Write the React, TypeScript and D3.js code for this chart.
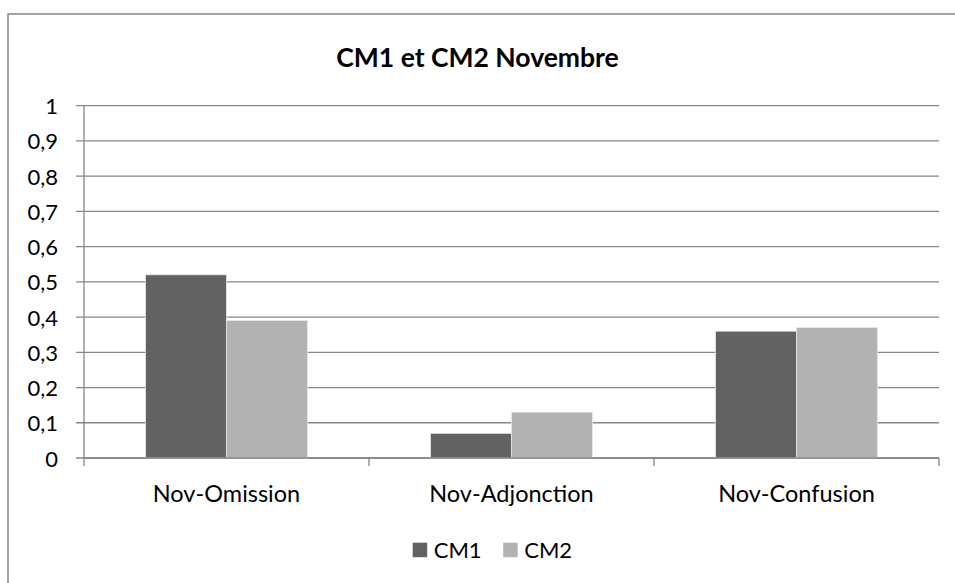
import React from "react";
import * as d3 from "d3";

const categories = ["Nov-Omission", "Nov-Adjonction", "Nov-Confusion"];
const seriesNames = ["CM1", "CM2"];
const cm1Values = [0.52, 0.07, 0.36];
const cm2Values = [0.39, 0.13, 0.37];
const yTicks = [0, 0.1, 0.2, 0.3, 0.4, 0.5, 0.6, 0.7, 0.8, 0.9, 1];

const colors = ["#626262", "#b2b2b2"];
const font = "Lato, 'Open Sans', sans-serif";

const App = () => {
  const width = 955,
    height = 583,
    plot = { left: 84, right: 939, top: 105.7, bottom: 458 };

  const xScale0 = d3
    .scaleBand()
    .domain(categories)
    .range([plot.left, plot.right])
    .paddingInner(0.432)
    .paddingOuter(0.216);
  const xScale1 = d3
    .scaleBand()
    .domain(seriesNames)
    .range([0, xScale0.bandwidth()]);
  const yScale = d3.scaleLinear().domain([0, 1]).range([plot.bottom, plot.top]);

  const step = xScale0.step();
  const boundaries = d3.range(categories.length + 1).map((i) => plot.left + i * step);
  const fmt = (v: number) => d3.format("~g")(v).replace(".", ",");

  const rows = categories.map((c, i) => ({
    category: c,
    values: [cm1Values[i], cm2Values[i]],
  }));

  return (
    <div style={{ position: "absolute", left: 0, top: 0 }}>
      <svg width={width} height={height} style={{ display: "block", background: "#fff" }}>
        {/* outer frame */}
        <rect x={8} y={14} width={960} height={600} fill="#fff" stroke="#888" strokeWidth={1.5} />

        <text x={477.5} y={67} textAnchor="middle" fontFamily={font} fontWeight="bold" fontSize={26.5} fill="#000">
          CM1 et CM2 Novembre
        </text>

        {/* gridlines + y ticks */}
        {yTicks.map((t) => (
          <g key={t}>
            <line
              x1={plot.left - 8}
              x2={plot.right}
              y1={yScale(t)}
              y2={yScale(t)}
              stroke="#868686"
              strokeWidth={1.3}
            />
            <text
              x={58}
              y={yScale(t)}
              textAnchor="end"
              dominantBaseline="central"
              fontFamily={font}
              fontSize={22}
              fill="#000"
            >
              {fmt(t)}
            </text>
          </g>
        ))}

        {/* y axis */}
        <line x1={plot.left} x2={plot.left} y1={plot.top} y2={plot.bottom} stroke="#868686" strokeWidth={1.3} />

        {/* x ticks */}
        {boundaries.map((b, i) => (
          <line key={i} x1={b} x2={b} y1={plot.bottom} y2={plot.bottom + 8} stroke="#868686" strokeWidth={1.3} />
        ))}

        {/* bars */}
        {rows.map((r) => (
          <g key={r.category} transform={`translate(${xScale0(r.category)},0)`}>
            {r.values.map((v, j) => (
              <rect
                key={j}
                x={xScale1(seriesNames[j])}
                y={yScale(v)}
                width={xScale1.bandwidth()}
                height={plot.bottom - yScale(v)}
                fill={colors[j]}
                stroke="#e6e6e6"
                strokeWidth={0.8}
              />
            ))}
          </g>
        ))}

        {/* x axis */}
        <line x1={plot.left} x2={plot.right} y1={plot.bottom} y2={plot.bottom} stroke="#868686" strokeWidth={1.3} />

        {categories.map((c) => (
          <text
            key={c}
            x={(xScale0(c) as number) + xScale0.bandwidth() / 2}
            y={502}
            textAnchor="middle"
            fontFamily={font}
            fontSize={23.5}
            fill="#000"
          >
            {c}
          </text>
        ))}

        {/* legend */}
        {seriesNames.map((s, i) => (
          <g key={s} transform={`translate(${412.7 + i * 90.5},542.7)`}>
            <rect width={14.5} height={14.5} fill={colors[i]} />
            <text x={21} y={15.5} fontFamily={font} fontSize={22} fill="#000">
              {s}
            </text>
          </g>
        ))}
      </svg>
    </div>
  );
};

export default App;
